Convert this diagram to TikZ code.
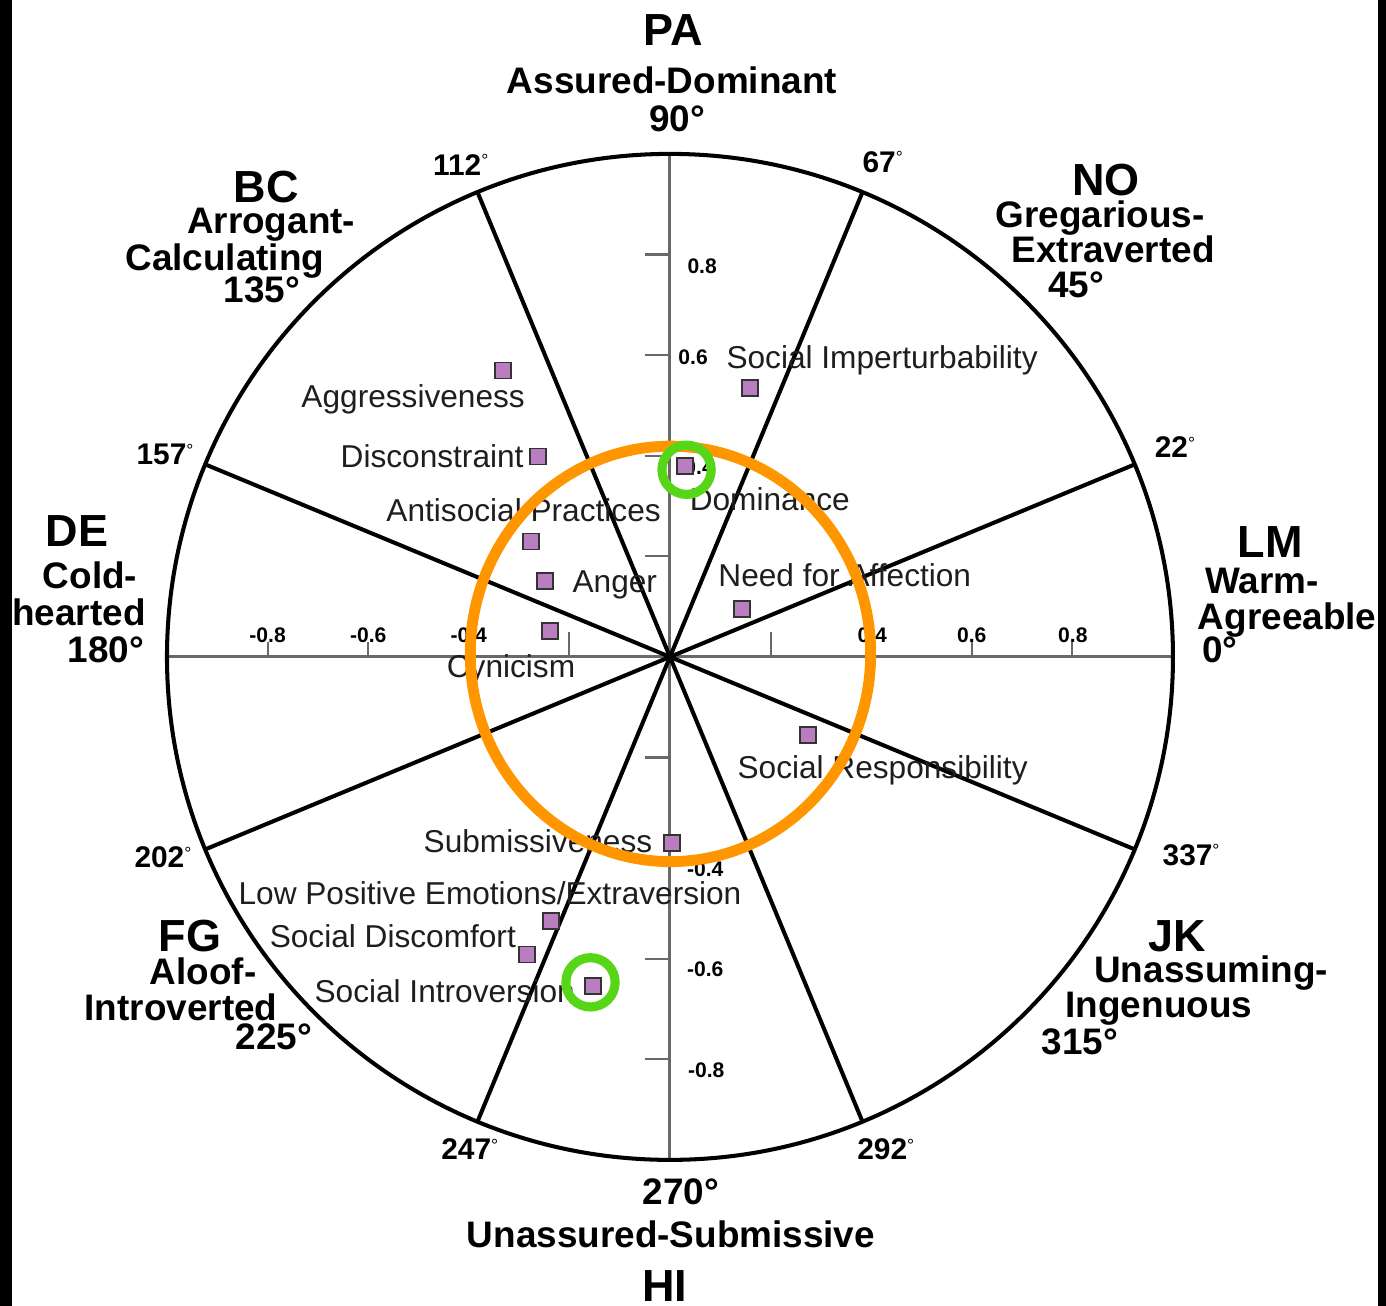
\documentclass[tikz,border=0pt]{standalone}
\usepackage{fontspec}
\setmainfont{Liberation Sans}
\usepackage{tikz}
\usetikzlibrary{positioning}
\definecolor{ring}{RGB}{255,150,0}
\definecolor{hilite}{RGB}{87,214,23}
\definecolor{scalept}{RGB}{185,126,192}
\definecolor{axisgray}{RGB}{105,105,105}
\definecolor{labelgray}{RGB}{30,30,30}
\newcommand{\smdeg}{\raisebox{2.4pt}{\fontsize{5}{5}\selectfont\mdseries °}}
\tikzstyle{spoke} = [line width=1.15pt, black]
\tikzstyle{axisline} = [line width=0.85pt, axisgray]
\tikzstyle{tickline} = [line width=0.6pt, axisgray]
\tikzstyle{itempt} = [rectangle, draw=black!80, fill=scalept, line width=0.45pt, minimum size=0.16cm, inner sep=0pt]
\tikzstyle{itemlabel} = [anchor=base west, inner sep=0pt, text=labelgray, font=\fontsize{9}{10}\selectfont]
\tikzstyle{octant} = [anchor=base, inner sep=0pt, font=\fontsize{12.8}{13}\selectfont\bfseries]
\tikzstyle{octname} = [anchor=base, inner sep=0pt, font=\fontsize{10.5}{11}\selectfont\bfseries]
\tikzstyle{degree} = [anchor=base, inner sep=0pt, font=\fontsize{8.5}{9}\selectfont\bfseries]
\tikzstyle{ticklabel} = [anchor=base, inner sep=0pt, font=\fontsize{6}{6}\selectfont\bfseries]
\tikzstyle{focus} = [draw=hilite, line width=2.6pt]
\begin{document}
\begin{tikzpicture}[x=5.03cm, y=5.03cm]
    \useasboundingbox (-1.332,-1.290) rectangle (1.4235,1.306);
    % dark strips at the edges
    \fill[black] (-1.332,-1.290) rectangle (-1.308,1.306);
    \fill[black] (1.4076,-1.290) rectangle (1.4235,1.306);

    \coordinate (o) at (0,0);

    % Axes and ticks
    \draw[axisline] (-1,0) -- (1,0);
    \draw[axisline] (0,-1) -- (0,1);
    \foreach \t in {-0.8,-0.6,-0.4,-0.2,0.2,0.4,0.6,0.8}
        \draw[tickline] (-0.05,\t) -- (0,\t);
    \foreach \t in {-0.2,0.2}
        \draw[tickline] (\t,0) -- (\t,0.05);
    \foreach \t in {-0.8,-0.6,-0.4,0.4,0.6,0.8}
        \draw[tickline] (\t,0) -- (\t,0.03);

    % Octant spokes and outer circle
    \foreach \a in {22.5,67.5,...,337.5}
        \draw[spoke] (o) -- (\a:1);
    \draw[spoke] (o) circle (1);

    % Tick labels
    \node[ticklabel] (xm8) at (-0.8,0.028) {-0.8};
    \node[ticklabel] (xm6) at (-0.6,0.028) {-0.6};
    \node[ticklabel] (xm4) at (-0.4,0.028) {-0.4};
    \node[ticklabel] (xp4) at (0.402,0.028) {0.4};
    \node[ticklabel] (xp6) at (0.6,0.028) {0.6};
    \node[ticklabel] (xp8) at (0.801,0.028) {0.8};
    \node[ticklabel] (yp8) at (0.064,0.763) {0.8};
    \node[ticklabel] (yp6) at (0.046,0.581) {0.6};
    \node[ticklabel] (yp4) at (0.058,0.362) {0.4};
    \node[ticklabel] (ym4) at (0.070,-0.437) {-0.4};
    \node[ticklabel] (ym6) at (0.070,-0.636) {-0.6};
    \node[ticklabel] (ym8) at (0.072,-0.837) {-0.8};

    % Angle marks
    \node[degree] (d112) at (-0.416,0.958) {112\smdeg};
    \node[degree] (d67) at (0.423,0.964) {67\smdeg};
    \node[degree] (d157) at (-1.004,0.382) {157\smdeg};
    \node[degree] (d22) at (1.004,0.396) {22\smdeg};
    \node[degree] (d202) at (-1.008,-0.419) {202\smdeg};
    \node[degree] (d337) at (1.036,-0.414) {337\smdeg};
    \node[degree] (d247) at (-0.398,-1.0) {247\smdeg};
    \node[degree] (d292) at (0.429,-1.0) {292\smdeg};

    % Octant names
    \node[octant] (pa) at (0.006,1.215) {PA};
    \node[octname] (pa1) at (0.004,1.121) {Assured-Dominant};
    \node[octname] (pa2) at (0.014,1.044) {90°};
    \node[octant] (bc) at (-0.803,0.903) {BC};
    \node[octname] (bc1) at (-0.793,0.841) {Arrogant-};
    \node[octname] (bc2) at (-0.885,0.769) {Calculating};
    \node[octname] (bc3) at (-0.811,0.704) {135°};
    \node[octant] (de) at (-1.179,0.219) {DE};
    \node[octname] (de1) at (-1.153,0.135) {Cold-};
    \node[octname] (de2) at (-1.175,0.062) {hearted};
    \node[octname] (de3) at (-1.121,-0.012) {180°};
    \node[octant] (no) at (0.867,0.918) {NO};
    \node[octname] (no1) at (0.855,0.853) {Gregarious-};
    \node[octname] (no2) at (0.881,0.785) {Extraverted};
    \node[octname] (no3) at (0.807,0.714) {45°};
    \node[octant] (lm) at (1.193,0.197) {LM};
    \node[octname] (lm1) at (1.177,0.127) {Warm-};
    \node[octname] (lm2) at (1.227,0.054) {Agreeable};
    \node[octname] (lm3) at (1.093,-0.012) {0°};
    \node[octant] (fg) at (-0.954,-0.586) {FG};
    \node[octname] (fg1) at (-0.928,-0.652) {Aloof-};
    \node[octname] (fg2) at (-0.972,-0.722) {Introverted};
    \node[octname] (fg3) at (-0.787,-0.781) {225°};
    \node[octant] (jk) at (1.008,-0.586) {JK};
    \node[octname] (jk1) at (1.076,-0.648) {Unassuming-};
    \node[octname] (jk2) at (0.972,-0.716) {Ingenuous};
    \node[octname] (jk3) at (0.815,-0.791) {315°};
    \node[octname] (hi2) at (0.022,-1.089) {270°};
    \node[octname] (hi1) at (0.002,-1.175) {Unassured-Submissive};
    \node[octant] (hi) at (-0.010,-1.282) {HI};

    % Scale points
    \node[itempt] (agg) at (-0.332,0.569) {};
    \node[itempt] (dis) at (-0.262,0.398) {};
    \node[itempt] (asp) at (-0.276,0.229) {};
    \node[itempt] (ang) at (-0.249,0.151) {};
    \node[itempt] (cyn) at (-0.239,0.052) {};
    \node[itempt] (sim) at (0.159,0.535) {};
    \node[itempt] (dom) at (0.030,0.380) {};
    \node[itempt] (naf) at (0.143,0.095) {};
    \node[itempt] (sre) at (0.274,-0.155) {};
    \node[itempt] (sub) at (0.004,-0.370) {};
    \node[itempt] (lpe) at (-0.237,-0.525) {};
    \node[itempt] (sdc) at (-0.284,-0.592) {};
    \node[itempt] (sin) at (-0.153,-0.654) {};

    % Scale names
    \node[itemlabel] (agglbl) at (-0.734,0.495) {Aggressiveness};
    \node[itemlabel] (dislbl) at (-0.656,0.376) {Disconstraint};
    \node[itemlabel] (asplbl) at (-0.565,0.270) {Antisocial Practices};
    \node[itemlabel] (anglbl) at (-0.195,0.129) {Anger};
    \node[itemlabel] (cynlbl) at (-0.445,-0.040) {Cynicism};
    \node[itemlabel] (simlbl) at (0.111,0.573) {Social Imperturbability};
    \node[itemlabel] (domlbl) at (0.038,0.292) {Dominance};
    \node[itemlabel] (naflbl) at (0.095,0.139) {Need for Affection};
    \node[itemlabel] (srelbl) at (0.133,-0.241) {Social Responsibility};
    \node[itemlabel] (sublbl) at (-0.491,-0.388) {Submissiveness};
    \node[itemlabel] (lpelbl) at (-0.859,-0.493) {Low Positive Emotions/Extraversion};
    \node[itemlabel] (sdclbl) at (-0.797,-0.577) {Social Discomfort};
    \node[itemlabel] (sinlbl) at (-0.708,-0.688) {Social Introversion};

    % Highlights
    \draw[draw=ring, line width=3.1pt] (0.001,0.006) ellipse [x radius=0.398, y radius=0.413];
    \draw[focus] ([shift={(0.003,-0.008)}]dom.center) circle (0.049);
    \draw[focus] ([shift={(-0.005,0.007)}]sin.center) circle (0.049);
\end{tikzpicture}
\end{document}
